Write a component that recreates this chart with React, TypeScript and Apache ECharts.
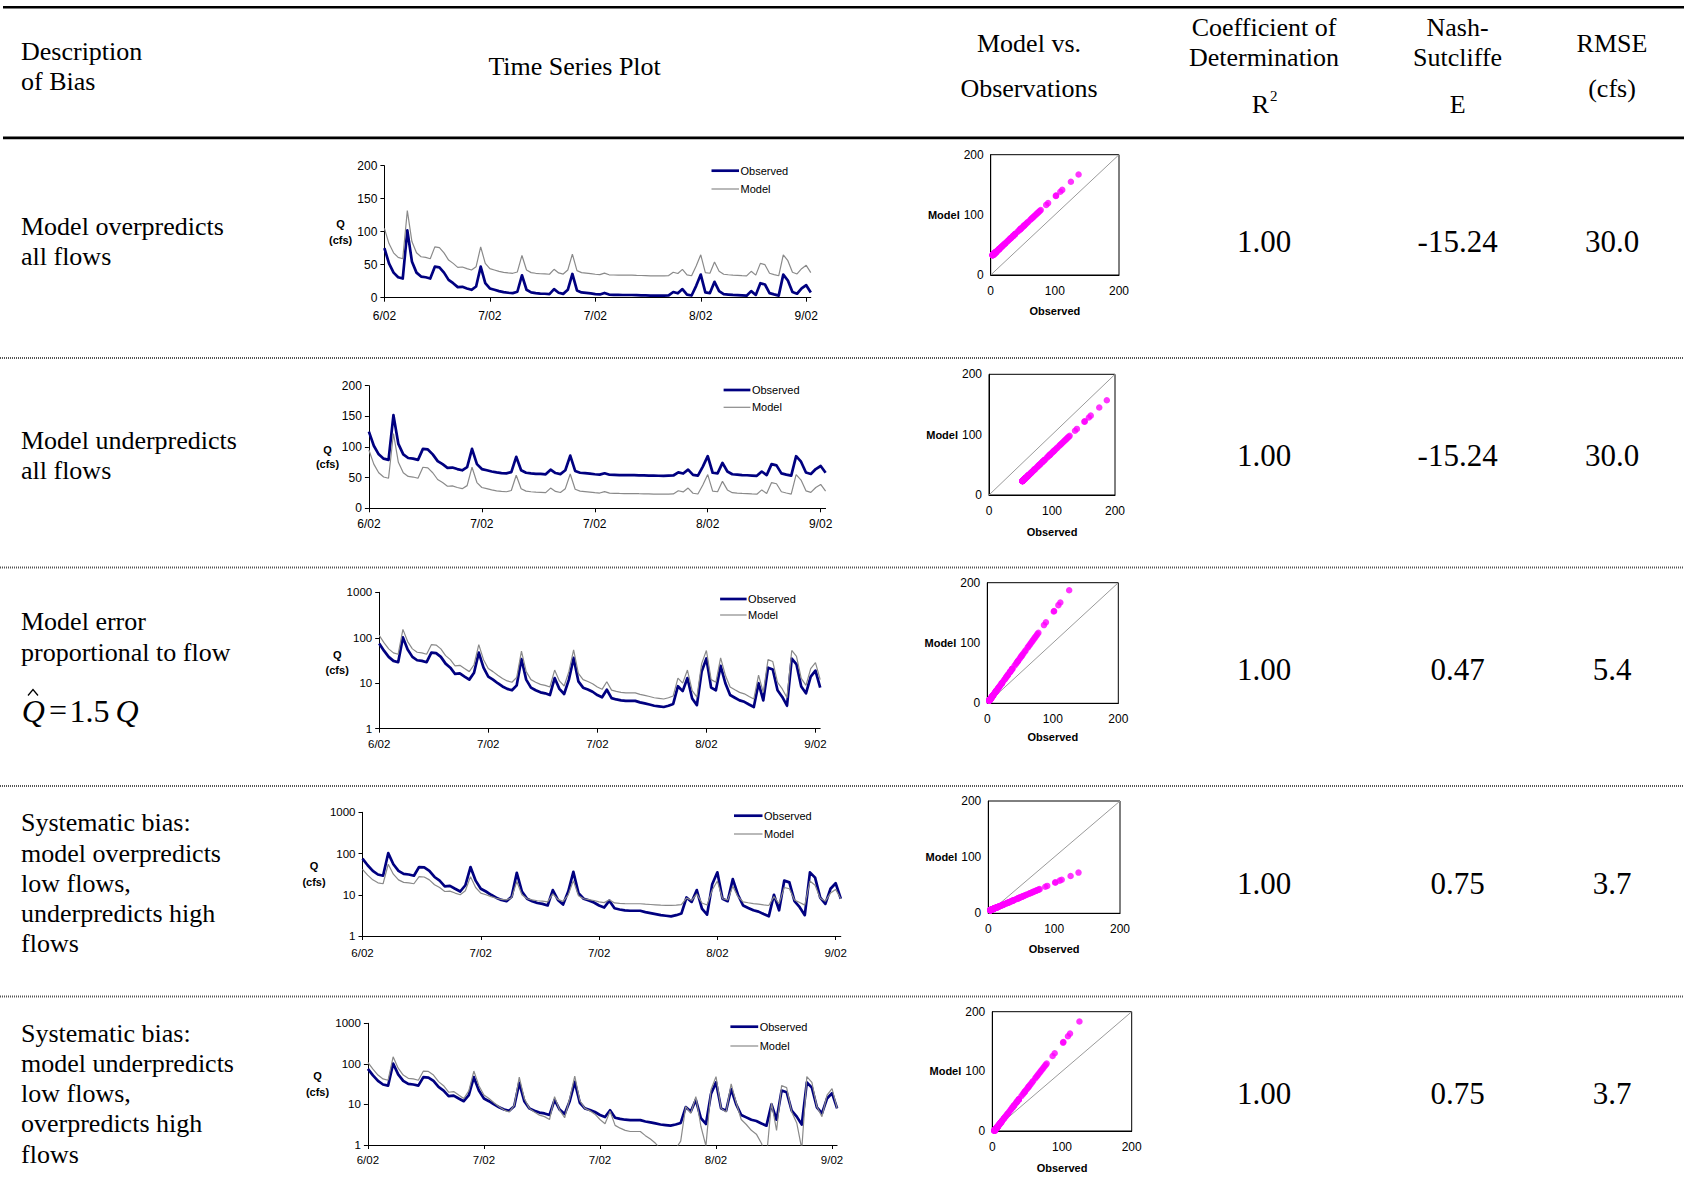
import React, { useEffect, useRef } from 'react';
import * as echarts from 'echarts';

const SERIF = '"Liberation Serif", "Times New Roman", serif';
const SANS = '"Liberation Sans", Arial, sans-serif';

// x-axis labels, one every 23 days
const dateTicks = ['6/02', '7/02', '7/02', '8/02', '9/02'];
const TICK_STEP = 23;

// Daily observed flow (cfs)
const flowObs = [
  75, 52, 38, 31, 29, 102, 55, 38, 32, 31,
  29, 47, 46, 38, 27, 22, 16, 16.5, 14, 12,
  17, 47, 22, 14, 12, 10, 8.5, 7.5, 7, 9,
  34, 12, 8, 7, 6.3, 6, 5.5, 13, 7.5, 5.8,
  12, 36, 11, 8, 7.3, 6.5, 5.5, 4.9, 7.2, 4.7,
  4.4, 4.2, 4.1, 4.1, 4.1, 3.8, 3.6, 3.4, 3.2, 3.1,
  3.0, 3.2, 3.5, 8.6, 6.7, 13, 4.6, 3.3, 18, 35,
  8, 7, 24, 10, 5.5, 4.8, 4.2, 3.9, 3.4, 3.0,
  10, 4.2, 22, 20, 7, 5, 3.2, 35, 26, 8.5,
  6, 14, 19, 8,
];

// Additional observed values that appear only in the scatter plots
const scatterExtraObs = [
  41.5, 43.5, 45, 49, 50.5, 52, 53.5, 57, 58.5, 61.5, 63, 64.5, 66, 67.5,
  69, 70.5, 72, 73.5, 76.5, 78, 86.5, 89.5, 101.5, 108.5, 111.5, 125, 137,
];

// Per-row bias: observed = Q + obsShift, model = modelScale * Q + modelShift
const obsShift = [0, 50, 0, 0, 0];
const modelScale = [1, 1, 1.5, 0.5, 1.5];
const modelShift = [30, 20, 0, 4, -4];

const biasDescriptions = [
  ['Model overpredicts', 'all flows'],
  ['Model underpredicts', 'all flows'],
  ['Model error', 'proportional to flow'],
  ['Systematic bias:', 'model overpredicts', 'low flows,', 'underpredicts high', 'flows'],
  ['Systematic bias:', 'model underpredicts', 'low flows,', 'overpredicts high', 'flows'],
];
const r2Values = ['1.00', '1.00', '1.00', '1.00', '1.00'];
const nashValues = ['-15.24', '-15.24', '0.47', '0.75', '0.75'];
const rmseValues = ['30.0', '30.0', '5.4', '3.7', '3.7'];

// Layout of each row's pieces (pixels)
const tsLayout = [
  { left: 384.4, top: 165.7, width: 426.4, height: 132.0, log: false, fs: 12, xm: 12.5, key: [711.5, 739, 170.7, 189], q: [340.6, 223.8, 240] },
  { left: 368.9, top: 385.7, width: 456.7, height: 122.6, log: false, fs: 12, xm: 9.5, key: [723.6, 750.4, 390, 407.3], q: [327.5, 450, 464.3] },
  { left: 379.2, top: 592.3, width: 441.0, height: 136.4, log: true, fs: 11.5, xm: 9, key: [720.1, 746.6, 599, 615], q: [337.2, 655, 670] },
  { left: 362.5, top: 812.3, width: 478.3, height: 123.7, log: true, fs: 11.5, xm: 11, key: [734, 762.5, 815.7, 834], q: [314, 865.5, 881.5] },
  { left: 367.9, top: 1023.3, width: 469.2, height: 121.7, log: true, fs: 11.5, xm: 8.5, key: [730.4, 758.2, 1026.7, 1046], q: [317.5, 1076, 1091.5] },
];
const scLayout = [
  { left: 990.7, top: 154.7, width: 128.3, height: 120.3, obsY: 311 },
  { left: 989, top: 374.3, width: 126, height: 120.7, obsY: 531.7 },
  { left: 987.3, top: 582.7, width: 131, height: 120.6, obsY: 737.3 },
  { left: 988.3, top: 801, width: 131.7, height: 112.3, obsY: 949 },
  { left: 992.3, top: 1011.7, width: 139.4, height: 119.3, obsY: 1167.7 },
];
const descTop = [226.6, 440.3, 621.7, 822.7, 1033];
const valueY = [241.7, 455.4, 669.1, 883.9, 1093.3];
const separatorY = [358, 567.5, 786, 996.5];
const COL_R2 = 1264;
const COL_E = 1457.6;
const COL_RMSE = 1612;

function text(t: string, x: number, y: number, o: any = {}) {
  const align = o.align ?? 'left';
  return {
    type: 'text',
    x,
    y,
    silent: true,
    style: {
      text: t,
      fill: '#000',
      fontSize: o.size ?? 26,
      fontFamily: o.family ?? SERIF,
      fontWeight: o.weight ?? 'normal',
      fontStyle: o.style ?? 'normal',
      align,
      textAlign: align,
      verticalAlign: 'middle',
      textVerticalAlign: 'middle',
    },
  };
}

function hline(x1: number, x2: number, y: number, stroke: string, lineWidth: number, lineDash?: number[]) {
  return {
    type: 'line',
    silent: true,
    shape: { x1, y1: y, x2, y2: y },
    style: { stroke, lineWidth, lineDash },
  };
}

function buildOption() {
  const days = flowObs.map((_, i) => String(i));
  const grid: any[] = [];
  const xAxis: any[] = [];
  const yAxis: any[] = [];
  const series: any[] = [];
  const g: any[] = [];

  const axisLine = { show: true, lineStyle: { color: '#000', width: 1 } };

  tsLayout.forEach((L, i) => {
    grid.push({ left: L.left, top: L.top, width: L.width, height: L.height, containLabel: false, show: false });
    xAxis.push({
      type: 'category',
      gridIndex: i,
      data: days,
      boundaryGap: false,
      axisLine,
      axisTick: { show: true, interval: TICK_STEP - 1, length: 4, lineStyle: { color: '#000' } },
      axisLabel: {
        interval: TICK_STEP - 1,
        margin: L.xm,
        color: '#000',
        fontSize: L.fs,
        fontFamily: SANS,
        formatter: (_v: string, idx: number) => dateTicks[idx / TICK_STEP] ?? '',
      },
      splitLine: { show: false },
    });
    const yBase: any = {
      gridIndex: i,
      axisLine,
      axisTick: { show: true, length: 4, lineStyle: { color: '#000' } },
      axisLabel: {
        margin: 7,
        color: '#000',
        fontSize: L.fs,
        fontFamily: SANS,
        formatter: (v: number) => String(Math.round(v)),
      },
      splitLine: { show: false },
    };
    yAxis.push(
      L.log
        ? { ...yBase, type: 'log', logBase: 10, min: 1, max: 1000 }
        : { ...yBase, type: 'value', min: 0, max: 200, interval: 50 },
    );
    const obs = flowObs.map((q) => +(q + obsShift[i]).toFixed(3));
    const mod = flowObs.map((q) => +(q * modelScale[i] + modelShift[i]).toFixed(3));
    series.push({
      type: 'line',
      xAxisIndex: i,
      yAxisIndex: i,
      data: obs,
      symbol: 'none',
      showSymbol: false,
      clip: true,
      silent: true,
      z: 2,
      lineStyle: { color: '#000080', width: 2.7, join: 'round' },
    });
    series.push({
      type: 'line',
      xAxisIndex: i,
      yAxisIndex: i,
      data: mod,
      symbol: 'none',
      showSymbol: false,
      clip: true,
      silent: true,
      z: 3,
      lineStyle: { color: '#8a8a8a', width: 1.2 },
    });

    // key
    const [kx1, kx2, ky1, ky2] = L.key;
    g.push(hline(kx1, kx2, ky1, '#000080', 2.7));
    g.push(hline(kx1, kx2, ky2, '#8a8a8a', 1.2));
    g.push(text('Observed', kx2 + 1.5, ky1, { size: 11, family: SANS }));
    g.push(text('Model', kx2 + 1.5, ky2, { size: 11, family: SANS }));
    // y-axis title
    g.push(text('Q', L.q[0], L.q[1], { size: 11, family: SANS, weight: 'bold', align: 'center' }));
    g.push(text('(cfs)', L.q[0], L.q[2], { size: 11, family: SANS, weight: 'bold', align: 'center' }));
  });

  const scatterObs = flowObs.concat(scatterExtraObs);
  scLayout.forEach((S, i) => {
    const gi = tsLayout.length + i;
    grid.push({
      left: S.left,
      top: S.top,
      width: S.width,
      height: S.height,
      containLabel: false,
      show: true,
      borderColor: '#000',
      borderWidth: 1,
      backgroundColor: 'transparent',
    });
    const base: any = {
      type: 'value',
      gridIndex: gi,
      min: 0,
      max: 200,
      interval: 100,
      axisLine,
      axisTick: { show: false },
      splitLine: { show: false },
    };
    xAxis.push({ ...base, axisLabel: { margin: 10, color: '#000', fontSize: 12, fontFamily: SANS } });
    yAxis.push({ ...base, axisLabel: { margin: 7, color: '#000', fontSize: 12, fontFamily: SANS } });
    series.push({
      type: 'line',
      xAxisIndex: gi,
      yAxisIndex: gi,
      data: [
        [0, 0],
        [200, 200],
      ],
      symbol: 'none',
      silent: true,
      z: 1,
      lineStyle: { color: '#9a9a9a', width: 1 },
    });
    series.push({
      type: 'scatter',
      xAxisIndex: gi,
      yAxisIndex: gi,
      data: scatterObs.map((q) => [
        +(q + obsShift[i]).toFixed(3),
        +(q * modelScale[i] + modelShift[i]).toFixed(3),
      ]),
      symbol: 'circle',
      symbolSize: 6.5,
      clip: true,
      silent: true,
      z: 2,
      itemStyle: { color: '#ff00ff' },
    });
    g.push(text('Model', S.left - 31, S.top + S.height / 2, { size: 11, family: SANS, weight: 'bold', align: 'right' }));
    g.push(text('Observed', S.left + S.width / 2, S.obsY, { size: 11, family: SANS, weight: 'bold', align: 'center' }));
  });

  // table rules
  g.push({ type: 'rect', silent: true, shape: { x: 3, y: 6, width: 1681, height: 2.6 }, style: { fill: '#000' } });
  g.push({ type: 'rect', silent: true, shape: { x: 3, y: 136.6, width: 1681, height: 2.6 }, style: { fill: '#000' } });
  separatorY.forEach((y) => g.push(hline(0, 1684, y, '#555', 2, [1, 1])));

  // header
  g.push(text('Description', 21, 51));
  g.push(text('of Bias', 21, 81.5));
  g.push(text('Time Series Plot', 574.6, 66, { align: 'center' }));
  g.push(text('Model vs.', 1029, 43.5, { align: 'center' }));
  g.push(text('Observations', 1029, 88.5, { align: 'center' }));
  g.push(text('Coefficient of', COL_R2, 27.5, { align: 'center' }));
  g.push(text('Determination', COL_R2, 57.5, { align: 'center' }));
  g.push(text('R', COL_R2 + 5, 104, { align: 'right' }));
  g.push(text('2', COL_R2 + 6, 96, { size: 15 }));
  g.push(text('Nash-', COL_E, 27.5, { align: 'center' }));
  g.push(text('Sutcliffe', COL_E, 57.5, { align: 'center' }));
  g.push(text('E', COL_E, 104, { align: 'center' }));
  g.push(text('RMSE', COL_RMSE, 43.5, { align: 'center' }));
  g.push(text('(cfs)', COL_RMSE, 88.5, { align: 'center' }));

  // row descriptions and statistics
  biasDescriptions.forEach((lines, i) => {
    lines.forEach((ln, k) => g.push(text(ln, 21, descTop[i] + k * 30.3)));
    g.push(text(r2Values[i], COL_R2, valueY[i], { size: 31, align: 'center' }));
    g.push(text(nashValues[i], COL_E, valueY[i], { size: 31, align: 'center' }));
    g.push(text(rmseValues[i], COL_RMSE, valueY[i], { size: 31, align: 'center' }));
  });

  // equation  Q-hat = 1.5 Q
  g.push(text('Q', 21.7, 710.5, { size: 32, style: 'italic' }));
  g.push({
    type: 'polyline',
    silent: true,
    shape: { points: [[28, 695.5], [33, 689.5], [38, 695.5]] },
    style: { stroke: '#000', lineWidth: 1.3, fill: 'none' },
  });
  g.push(text('=', 49, 709.5, { size: 32 }));
  g.push(text('1.5', 69.5, 710.5, { size: 32 }));
  g.push(text('Q', 115.5, 710.5, { size: 32, style: 'italic' }));

  return {
    animation: false,
    backgroundColor: '#ffffff',
    grid,
    xAxis,
    yAxis,
    series,
    graphic: { elements: g },
  };
}

export default function App() {
  const ref = useRef<HTMLDivElement>(null);
  useEffect(() => {
    document.body.style.margin = '0';
    if (!ref.current) return;
    const chart = echarts.init(ref.current, undefined, { renderer: 'svg' });
    chart.setOption(buildOption() as any);
    return () => chart.dispose();
  }, []);
  return <div ref={ref} style={{ width: 1684, height: 1203, background: '#fff' }} />;
}
